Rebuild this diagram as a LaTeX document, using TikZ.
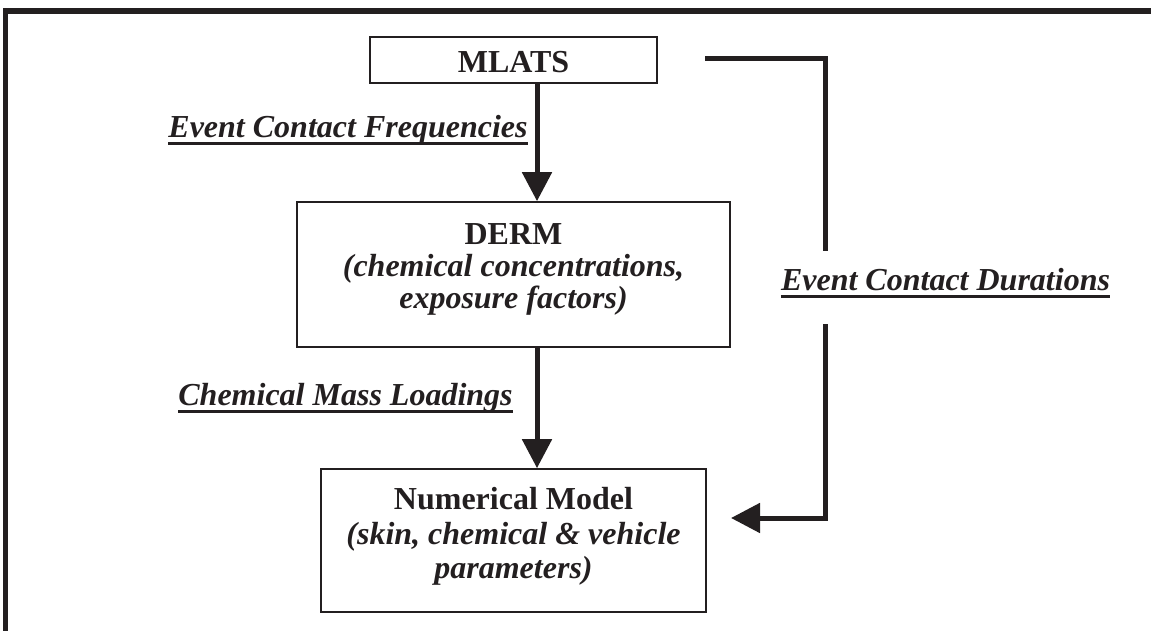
\documentclass[tikz,border=0pt]{standalone}
\usepackage{fontspec}
\setmainfont{Liberation Serif}
\usetikzlibrary{arrows.meta}
\definecolor{ink}{HTML}{231F20}
\begin{document}
\begin{tikzpicture}[x=1pt,y=-1pt,
  box/.style={draw=ink,line width=1.6pt,rectangle,inner sep=0pt},
  ttl/.style={font=\fontsize{32}{34}\selectfont\bfseries,text=ink,anchor=base,inner sep=0pt},
  sub/.style={font=\fontsize{32}{34}\selectfont\bfseries\itshape,text=ink,anchor=base,inner sep=0pt},
  flow/.style={draw=ink,line width=5pt,-{Triangle[length=29pt,width=29pt]}},
  wire/.style={draw=ink,line width=5pt},
  uline/.style={draw=ink,line width=3pt}]
\useasboundingbox (0,0) rectangle (1151,631);
% outer frame (only top and left edges are visible)
\fill[ink] (3,8) rectangle (1151,14);
\fill[ink] (3,8) rectangle (8,631);
% boxes
\node[box,minimum width=287pt,minimum height=46pt] (mlats) at (513.5,60) {};
\node[box,minimum width=433pt,minimum height=145pt] (derm) at (513.5,274.5) {};
\node[box,minimum width=385pt,minimum height=143pt] (num) at (513.5,540.5) {};
% box texts
\node[ttl] (mlatsT) at (513.5,73) {MLATS};
\node[ttl] (dermT) at (513.5,244) {DERM};
\node[sub] (derm2) at (513.5,276) {(chemical concentrations,};
\node[sub] (derm3) at (513.5,308) {exposure factors)};
\node[ttl] (numT) at (513.5,509) {Numerical Model};
\node[sub] (num2) at (513.5,544) {(skin, chemical \& vehicle};
\node[sub] (num3) at (513.5,578) {parameters)};
% labels
\node[sub] (freq) at (348,138) {Event Contact Frequencies};
\draw[uline] ([yshift=-6pt]freq.base west) -- ([yshift=-6pt]freq.base east);
\node[sub] (load) at (345.5,405) {Chemical Mass Loadings};
\draw[uline] ([yshift=-6pt]load.base west) -- ([yshift=-6pt]load.base east);
\node[sub] (dur) at (945.5,290) {Event Contact Durations};
\draw[uline] ([yshift=-6pt]dur.base west) -- ([yshift=-6pt]dur.base east);
% vertical flow arrows
\coordinate (ax) at (537,0);
\draw[flow] (mlats.south -| ax) -- (derm.north -| ax);
\draw[flow] (derm.south -| ax) -- (num.north -| ax);
% bracket connector
\coordinate (b1) at (705,59);
\coordinate (b2) at (825,59);
\coordinate (b3) at (825,251);
\coordinate (b4) at (825,324);
\coordinate (b5) at (825,518);
\coordinate (b6) at (731,518);
\draw[wire,line join=miter] (b1) -- (b2) -- (b3);
\draw[flow,line join=miter] (b4) -- (b5) -- (b6);
\end{tikzpicture}
\end{document}
